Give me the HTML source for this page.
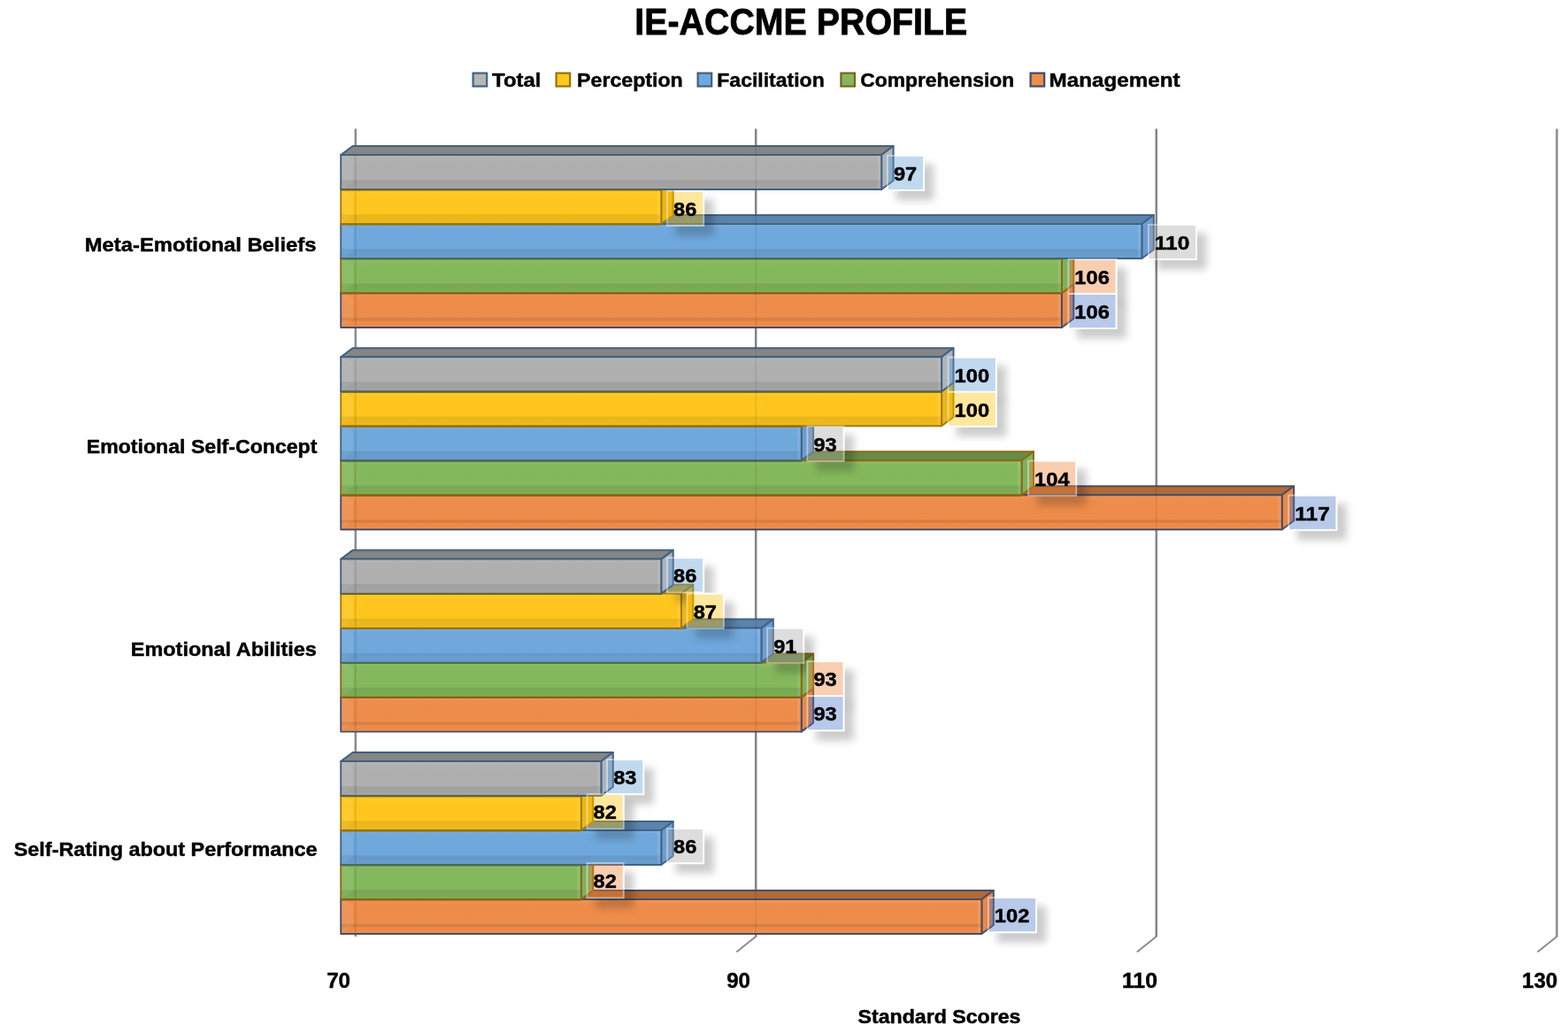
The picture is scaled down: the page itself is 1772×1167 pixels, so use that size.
<!DOCTYPE html>
<html lang="en"><head><meta charset="utf-8"><title>IE-ACCME PROFILE</title>
<style>
html,body{margin:0;padding:0;background:#fff;}
body{width:1772px;height:1167px;overflow:hidden;}
svg{display:block;}
text{font-family:"Liberation Sans", "DejaVu Sans", sans-serif;font-weight:bold;fill:#000;stroke:#000;stroke-width:0.45px;stroke-linejoin:round;}
.ttl{stroke-width:0.8px;}
</style></head><body>
<svg width="1772" height="1167" viewBox="0 0 1772 1167">
<defs>
<filter id="sh" x="-50%" y="-50%" width="220%" height="220%"><feGaussianBlur stdDeviation="4.4"/></filter>
<linearGradient id="bev" x1="0" y1="0" x2="0" y2="1"><stop offset="0" stop-color="#fff" stop-opacity="0.09"/><stop offset="0.13" stop-color="#fff" stop-opacity="0.01"/><stop offset="0.71" stop-color="#000" stop-opacity="0"/><stop offset="0.74" stop-color="#000" stop-opacity="0.09"/><stop offset="1" stop-color="#000" stop-opacity="0.06"/></linearGradient>
<linearGradient id="bevo" x1="0" y1="0" x2="0" y2="1"><stop offset="0" stop-color="#fff" stop-opacity="0.09"/><stop offset="0.13" stop-color="#fff" stop-opacity="0.01"/><stop offset="0.70" stop-color="#000" stop-opacity="0"/><stop offset="0.73" stop-color="#000" stop-opacity="0.10"/><stop offset="0.79" stop-color="#000" stop-opacity="0.09"/><stop offset="0.82" stop-color="#000" stop-opacity="0.01"/><stop offset="1" stop-color="#fff" stop-opacity="0.03"/></linearGradient>
</defs>
<rect width="1772" height="1167" fill="#fff"/>
<text class="ttl" x="905.3" y="38.9" font-size="42.4" text-anchor="middle" textLength="376" lengthAdjust="spacingAndGlyphs">IE-ACCME PROFILE</text>
<rect x="534.6" y="82.6" width="15.6" height="14.9" fill="#B6B6B6" stroke="#3F6288" stroke-width="2.2"/>
<text x="556.1" y="97.7" font-size="21.9" textLength="55.2" lengthAdjust="spacingAndGlyphs">Total</text>
<rect x="628.6" y="82.6" width="15.6" height="14.9" fill="#FFC820" stroke="#94720E" stroke-width="2.2"/>
<text x="652.1" y="97.7" font-size="21.9" textLength="119.6" lengthAdjust="spacingAndGlyphs">Perception</text>
<rect x="788.6" y="82.6" width="15.6" height="14.9" fill="#6FA8DC" stroke="#44607E" stroke-width="2.2"/>
<text x="810.3" y="97.7" font-size="21.9" textLength="121.4" lengthAdjust="spacingAndGlyphs">Facilitation</text>
<rect x="950.4" y="82.6" width="15.6" height="14.9" fill="#84B85C" stroke="#80601C" stroke-width="2.2"/>
<text x="972.2" y="97.7" font-size="21.9" textLength="174" lengthAdjust="spacingAndGlyphs">Comprehension</text>
<rect x="1164.6" y="82.6" width="15.6" height="14.9" fill="#EE8C4A" stroke="#3C4A70" stroke-width="2.2"/>
<text x="1185.5" y="97.7" font-size="21.9" textLength="148" lengthAdjust="spacingAndGlyphs">Management</text>
<line x1="401.8" y1="145.5" x2="401.8" y2="1058" stroke="#8C8C8C" stroke-width="2.5"/>
<line x1="854.2" y1="145.5" x2="854.2" y2="1058" stroke="#8C8C8C" stroke-width="2.5"/>
<line x1="854.2" y1="1058" x2="832.9" y2="1075" stroke="#8C8C8C" stroke-width="2" stroke-linecap="round"/>
<line x1="1306.8" y1="145.5" x2="1306.8" y2="1058" stroke="#8C8C8C" stroke-width="2.5"/>
<line x1="1306.8" y1="1058" x2="1285.5" y2="1075" stroke="#8C8C8C" stroke-width="2" stroke-linecap="round"/>
<line x1="1759.4" y1="145.5" x2="1759.4" y2="1058" stroke="#8C8C8C" stroke-width="2.5"/>
<line x1="1759.4" y1="1058" x2="1738.1" y2="1075" stroke="#8C8C8C" stroke-width="2" stroke-linecap="round"/>
<g>
<polygon points="385.2,331 398.6,321 1213.3,321 1199.9,331" fill="#B06A38" stroke="#4A4E66" stroke-width="2" stroke-linejoin="round"/>
<polygon points="1199.9,331 1213.3,321 1213.3,360 1199.9,370" fill="#E8884A" stroke="#4A4E66" stroke-width="2" stroke-linejoin="round"/>
<rect x="385.2" y="331" width="814.7" height="39" fill="#EE8C4A"/>
<rect x="385.2" y="331" width="814.7" height="39" fill="url(#bevo)"/>
<polygon points="385.2,331 399.2,337 399.2,360 385.2,370" fill="#fff" fill-opacity="0.07"/>
<rect x="400.4" y="332" width="2.6" height="37" fill="#000" fill-opacity="0.08"/>
<rect x="1195.4" y="332" width="3.5" height="37" fill="#fff" fill-opacity="0.10"/>
<rect x="385.2" y="331" width="814.7" height="39" fill="none" stroke="#4A4E66" stroke-width="1.9" stroke-linejoin="round"/>
<polygon points="385.2,292 398.6,282 1213.3,282 1199.9,292" fill="#668C48" stroke="#8A6A14" stroke-width="2" stroke-linejoin="round"/>
<polygon points="1199.9,292 1213.3,282 1213.3,321 1199.9,331" fill="#7FB060" stroke="#8A6A14" stroke-width="2" stroke-linejoin="round"/>
<rect x="385.2" y="292" width="814.7" height="39" fill="#84B85C"/>
<rect x="385.2" y="292" width="814.7" height="39" fill="url(#bev)"/>
<polygon points="385.2,292 399.2,298 399.2,321 385.2,331" fill="#fff" fill-opacity="0.07"/>
<rect x="400.4" y="293" width="2.6" height="37" fill="#000" fill-opacity="0.08"/>
<rect x="1195.4" y="293" width="3.5" height="37" fill="#fff" fill-opacity="0.10"/>
<rect x="385.2" y="292" width="814.7" height="39" fill="none" stroke="#8A6A14" stroke-width="1.9" stroke-linejoin="round"/>
<polygon points="385.2,253 398.6,243 1303.8,243 1290.4,253" fill="#5B83AB" stroke="#416487" stroke-width="2" stroke-linejoin="round"/>
<polygon points="1290.4,253 1303.8,243 1303.8,282 1290.4,292" fill="#6D9CD0" stroke="#416487" stroke-width="2" stroke-linejoin="round"/>
<rect x="385.2" y="253" width="905.2" height="39" fill="#6FA8DC"/>
<rect x="385.2" y="253" width="905.2" height="39" fill="url(#bev)"/>
<polygon points="385.2,253 399.2,259 399.2,282 385.2,292" fill="#fff" fill-opacity="0.07"/>
<rect x="400.4" y="254" width="2.6" height="37" fill="#000" fill-opacity="0.08"/>
<rect x="1285.9" y="254" width="3.5" height="37" fill="#fff" fill-opacity="0.10"/>
<rect x="385.2" y="253" width="905.2" height="39" fill="none" stroke="#416487" stroke-width="1.9" stroke-linejoin="round"/>
<polygon points="385.2,214 398.6,204 760.7,204 747.3,214" fill="#C8A020" stroke="#A47C0C" stroke-width="2" stroke-linejoin="round"/>
<polygon points="747.3,214 760.7,204 760.7,243 747.3,253" fill="#E9B71C" stroke="#A47C0C" stroke-width="2" stroke-linejoin="round"/>
<rect x="385.2" y="214" width="362.1" height="39" fill="#FFC61E"/>
<rect x="385.2" y="214" width="362.1" height="39" fill="url(#bev)"/>
<polygon points="385.2,214 399.2,220 399.2,243 385.2,253" fill="#fff" fill-opacity="0.07"/>
<rect x="400.4" y="215" width="2.6" height="37" fill="#000" fill-opacity="0.08"/>
<rect x="742.8" y="215" width="3.5" height="37" fill="#fff" fill-opacity="0.10"/>
<rect x="385.2" y="214" width="362.1" height="39" fill="none" stroke="#A47C0C" stroke-width="1.9" stroke-linejoin="round"/>
<polygon points="385.2,175 398.6,165 1009.6,165 996.2,175" fill="#858585" stroke="#40607F" stroke-width="2" stroke-linejoin="round"/>
<polygon points="996.2,175 1009.6,165 1009.6,204 996.2,214" fill="#ABB5C0" stroke="#40607F" stroke-width="2" stroke-linejoin="round"/>
<rect x="385.2" y="175" width="611" height="39" fill="#AFAFAF"/>
<rect x="385.2" y="175" width="611" height="39" fill="url(#bev)"/>
<polygon points="385.2,175 399.2,181 399.2,204 385.2,214" fill="#fff" fill-opacity="0.07"/>
<rect x="400.4" y="176" width="2.6" height="37" fill="#000" fill-opacity="0.08"/>
<rect x="991.7" y="176" width="3.5" height="37" fill="#fff" fill-opacity="0.10"/>
<rect x="385.2" y="175" width="611" height="39" fill="none" stroke="#40607F" stroke-width="1.9" stroke-linejoin="round"/>
<line x1="386.2" y1="214.4" x2="747.3" y2="214.4" stroke="#6A6524" stroke-width="2"/>
<line x1="386.2" y1="253.4" x2="747.3" y2="253.4" stroke="#93700F" stroke-width="2"/>
<line x1="386.2" y1="292.4" x2="1199.9" y2="292.4" stroke="#4F6C45" stroke-width="2"/>
<line x1="386.2" y1="331.4" x2="1199.9" y2="331.4" stroke="#876312" stroke-width="2"/>
</g>
<g>
<polygon points="385.2,559.3 398.6,549.3 1462.2,549.3 1448.8,559.3" fill="#B06A38" stroke="#4A4E66" stroke-width="2" stroke-linejoin="round"/>
<polygon points="1448.8,559.3 1462.2,549.3 1462.2,588.3 1448.8,598.3" fill="#E8884A" stroke="#4A4E66" stroke-width="2" stroke-linejoin="round"/>
<rect x="385.2" y="559.3" width="1063.6" height="39" fill="#EE8C4A"/>
<rect x="385.2" y="559.3" width="1063.6" height="39" fill="url(#bevo)"/>
<polygon points="385.2,559.3 399.2,565.3 399.2,588.3 385.2,598.3" fill="#fff" fill-opacity="0.07"/>
<rect x="400.4" y="560.3" width="2.6" height="37" fill="#000" fill-opacity="0.08"/>
<rect x="1444.3" y="560.3" width="3.5" height="37" fill="#fff" fill-opacity="0.10"/>
<rect x="385.2" y="559.3" width="1063.6" height="39" fill="none" stroke="#4A4E66" stroke-width="1.9" stroke-linejoin="round"/>
<polygon points="385.2,520.3 398.6,510.3 1168,510.3 1154.6,520.3" fill="#668C48" stroke="#8A6A14" stroke-width="2" stroke-linejoin="round"/>
<polygon points="1154.6,520.3 1168,510.3 1168,549.3 1154.6,559.3" fill="#7FB060" stroke="#8A6A14" stroke-width="2" stroke-linejoin="round"/>
<rect x="385.2" y="520.3" width="769.4" height="39" fill="#84B85C"/>
<rect x="385.2" y="520.3" width="769.4" height="39" fill="url(#bev)"/>
<polygon points="385.2,520.3 399.2,526.3 399.2,549.3 385.2,559.3" fill="#fff" fill-opacity="0.07"/>
<rect x="400.4" y="521.3" width="2.6" height="37" fill="#000" fill-opacity="0.08"/>
<rect x="1150.1" y="521.3" width="3.5" height="37" fill="#fff" fill-opacity="0.10"/>
<rect x="385.2" y="520.3" width="769.4" height="39" fill="none" stroke="#8A6A14" stroke-width="1.9" stroke-linejoin="round"/>
<polygon points="385.2,481.3 398.6,471.3 919.1,471.3 905.7,481.3" fill="#5B83AB" stroke="#416487" stroke-width="2" stroke-linejoin="round"/>
<polygon points="905.7,481.3 919.1,471.3 919.1,510.3 905.7,520.3" fill="#6D9CD0" stroke="#416487" stroke-width="2" stroke-linejoin="round"/>
<rect x="385.2" y="481.3" width="520.5" height="39" fill="#6FA8DC"/>
<rect x="385.2" y="481.3" width="520.5" height="39" fill="url(#bev)"/>
<polygon points="385.2,481.3 399.2,487.3 399.2,510.3 385.2,520.3" fill="#fff" fill-opacity="0.07"/>
<rect x="400.4" y="482.3" width="2.6" height="37" fill="#000" fill-opacity="0.08"/>
<rect x="901.2" y="482.3" width="3.5" height="37" fill="#fff" fill-opacity="0.10"/>
<rect x="385.2" y="481.3" width="520.5" height="39" fill="none" stroke="#416487" stroke-width="1.9" stroke-linejoin="round"/>
<polygon points="385.2,442.3 398.6,432.3 1077.5,432.3 1064.1,442.3" fill="#C8A020" stroke="#A47C0C" stroke-width="2" stroke-linejoin="round"/>
<polygon points="1064.1,442.3 1077.5,432.3 1077.5,471.3 1064.1,481.3" fill="#E9B71C" stroke="#A47C0C" stroke-width="2" stroke-linejoin="round"/>
<rect x="385.2" y="442.3" width="678.9" height="39" fill="#FFC61E"/>
<rect x="385.2" y="442.3" width="678.9" height="39" fill="url(#bev)"/>
<polygon points="385.2,442.3 399.2,448.3 399.2,471.3 385.2,481.3" fill="#fff" fill-opacity="0.07"/>
<rect x="400.4" y="443.3" width="2.6" height="37" fill="#000" fill-opacity="0.08"/>
<rect x="1059.6" y="443.3" width="3.5" height="37" fill="#fff" fill-opacity="0.10"/>
<rect x="385.2" y="442.3" width="678.9" height="39" fill="none" stroke="#A47C0C" stroke-width="1.9" stroke-linejoin="round"/>
<polygon points="385.2,403.3 398.6,393.3 1077.5,393.3 1064.1,403.3" fill="#858585" stroke="#40607F" stroke-width="2" stroke-linejoin="round"/>
<polygon points="1064.1,403.3 1077.5,393.3 1077.5,432.3 1064.1,442.3" fill="#ABB5C0" stroke="#40607F" stroke-width="2" stroke-linejoin="round"/>
<rect x="385.2" y="403.3" width="678.9" height="39" fill="#AFAFAF"/>
<rect x="385.2" y="403.3" width="678.9" height="39" fill="url(#bev)"/>
<polygon points="385.2,403.3 399.2,409.3 399.2,432.3 385.2,442.3" fill="#fff" fill-opacity="0.07"/>
<rect x="400.4" y="404.3" width="2.6" height="37" fill="#000" fill-opacity="0.08"/>
<rect x="1059.6" y="404.3" width="3.5" height="37" fill="#fff" fill-opacity="0.10"/>
<rect x="385.2" y="403.3" width="678.9" height="39" fill="none" stroke="#40607F" stroke-width="1.9" stroke-linejoin="round"/>
<line x1="386.2" y1="442.7" x2="1064.1" y2="442.7" stroke="#6A6524" stroke-width="2"/>
<line x1="386.2" y1="481.7" x2="905.7" y2="481.7" stroke="#93700F" stroke-width="2"/>
<line x1="386.2" y1="520.7" x2="905.7" y2="520.7" stroke="#4F6C45" stroke-width="2"/>
<line x1="386.2" y1="559.7" x2="1154.6" y2="559.7" stroke="#876312" stroke-width="2"/>
</g>
<g>
<polygon points="385.2,787.6 398.6,777.6 919.1,777.6 905.7,787.6" fill="#B06A38" stroke="#4A4E66" stroke-width="2" stroke-linejoin="round"/>
<polygon points="905.7,787.6 919.1,777.6 919.1,816.6 905.7,826.6" fill="#E8884A" stroke="#4A4E66" stroke-width="2" stroke-linejoin="round"/>
<rect x="385.2" y="787.6" width="520.5" height="39" fill="#EE8C4A"/>
<rect x="385.2" y="787.6" width="520.5" height="39" fill="url(#bevo)"/>
<polygon points="385.2,787.6 399.2,793.6 399.2,816.6 385.2,826.6" fill="#fff" fill-opacity="0.07"/>
<rect x="400.4" y="788.6" width="2.6" height="37" fill="#000" fill-opacity="0.08"/>
<rect x="901.2" y="788.6" width="3.5" height="37" fill="#fff" fill-opacity="0.10"/>
<rect x="385.2" y="787.6" width="520.5" height="39" fill="none" stroke="#4A4E66" stroke-width="1.9" stroke-linejoin="round"/>
<polygon points="385.2,748.6 398.6,738.6 919.1,738.6 905.7,748.6" fill="#668C48" stroke="#8A6A14" stroke-width="2" stroke-linejoin="round"/>
<polygon points="905.7,748.6 919.1,738.6 919.1,777.6 905.7,787.6" fill="#7FB060" stroke="#8A6A14" stroke-width="2" stroke-linejoin="round"/>
<rect x="385.2" y="748.6" width="520.5" height="39" fill="#84B85C"/>
<rect x="385.2" y="748.6" width="520.5" height="39" fill="url(#bev)"/>
<polygon points="385.2,748.6 399.2,754.6 399.2,777.6 385.2,787.6" fill="#fff" fill-opacity="0.07"/>
<rect x="400.4" y="749.6" width="2.6" height="37" fill="#000" fill-opacity="0.08"/>
<rect x="901.2" y="749.6" width="3.5" height="37" fill="#fff" fill-opacity="0.10"/>
<rect x="385.2" y="748.6" width="520.5" height="39" fill="none" stroke="#8A6A14" stroke-width="1.9" stroke-linejoin="round"/>
<polygon points="385.2,709.6 398.6,699.6 873.8,699.6 860.4,709.6" fill="#5B83AB" stroke="#416487" stroke-width="2" stroke-linejoin="round"/>
<polygon points="860.4,709.6 873.8,699.6 873.8,738.6 860.4,748.6" fill="#6D9CD0" stroke="#416487" stroke-width="2" stroke-linejoin="round"/>
<rect x="385.2" y="709.6" width="475.2" height="39" fill="#6FA8DC"/>
<rect x="385.2" y="709.6" width="475.2" height="39" fill="url(#bev)"/>
<polygon points="385.2,709.6 399.2,715.6 399.2,738.6 385.2,748.6" fill="#fff" fill-opacity="0.07"/>
<rect x="400.4" y="710.6" width="2.6" height="37" fill="#000" fill-opacity="0.08"/>
<rect x="855.9" y="710.6" width="3.5" height="37" fill="#fff" fill-opacity="0.10"/>
<rect x="385.2" y="709.6" width="475.2" height="39" fill="none" stroke="#416487" stroke-width="1.9" stroke-linejoin="round"/>
<polygon points="385.2,670.6 398.6,660.6 783.3,660.6 769.9,670.6" fill="#C8A020" stroke="#A47C0C" stroke-width="2" stroke-linejoin="round"/>
<polygon points="769.9,670.6 783.3,660.6 783.3,699.6 769.9,709.6" fill="#E9B71C" stroke="#A47C0C" stroke-width="2" stroke-linejoin="round"/>
<rect x="385.2" y="670.6" width="384.7" height="39" fill="#FFC61E"/>
<rect x="385.2" y="670.6" width="384.7" height="39" fill="url(#bev)"/>
<polygon points="385.2,670.6 399.2,676.6 399.2,699.6 385.2,709.6" fill="#fff" fill-opacity="0.07"/>
<rect x="400.4" y="671.6" width="2.6" height="37" fill="#000" fill-opacity="0.08"/>
<rect x="765.4" y="671.6" width="3.5" height="37" fill="#fff" fill-opacity="0.10"/>
<rect x="385.2" y="670.6" width="384.7" height="39" fill="none" stroke="#A47C0C" stroke-width="1.9" stroke-linejoin="round"/>
<polygon points="385.2,631.6 398.6,621.6 760.7,621.6 747.3,631.6" fill="#858585" stroke="#40607F" stroke-width="2" stroke-linejoin="round"/>
<polygon points="747.3,631.6 760.7,621.6 760.7,660.6 747.3,670.6" fill="#ABB5C0" stroke="#40607F" stroke-width="2" stroke-linejoin="round"/>
<rect x="385.2" y="631.6" width="362.1" height="39" fill="#AFAFAF"/>
<rect x="385.2" y="631.6" width="362.1" height="39" fill="url(#bev)"/>
<polygon points="385.2,631.6 399.2,637.6 399.2,660.6 385.2,670.6" fill="#fff" fill-opacity="0.07"/>
<rect x="400.4" y="632.6" width="2.6" height="37" fill="#000" fill-opacity="0.08"/>
<rect x="742.8" y="632.6" width="3.5" height="37" fill="#fff" fill-opacity="0.10"/>
<rect x="385.2" y="631.6" width="362.1" height="39" fill="none" stroke="#40607F" stroke-width="1.9" stroke-linejoin="round"/>
<line x1="386.2" y1="671" x2="747.3" y2="671" stroke="#6A6524" stroke-width="2"/>
<line x1="386.2" y1="710" x2="769.9" y2="710" stroke="#93700F" stroke-width="2"/>
<line x1="386.2" y1="749" x2="860.4" y2="749" stroke="#4F6C45" stroke-width="2"/>
<line x1="386.2" y1="788" x2="905.7" y2="788" stroke="#876312" stroke-width="2"/>
</g>
<g>
<polygon points="385.2,1016 398.6,1006 1122.8,1006 1109.4,1016" fill="#B06A38" stroke="#4A4E66" stroke-width="2" stroke-linejoin="round"/>
<polygon points="1109.4,1016 1122.8,1006 1122.8,1045 1109.4,1055" fill="#E8884A" stroke="#4A4E66" stroke-width="2" stroke-linejoin="round"/>
<rect x="385.2" y="1016" width="724.2" height="39" fill="#EE8C4A"/>
<rect x="385.2" y="1016" width="724.2" height="39" fill="url(#bevo)"/>
<polygon points="385.2,1016 399.2,1022 399.2,1045 385.2,1055" fill="#fff" fill-opacity="0.07"/>
<rect x="400.4" y="1017" width="2.6" height="37" fill="#000" fill-opacity="0.08"/>
<rect x="1104.9" y="1017" width="3.5" height="37" fill="#fff" fill-opacity="0.10"/>
<rect x="385.2" y="1016" width="724.2" height="39" fill="none" stroke="#4A4E66" stroke-width="1.9" stroke-linejoin="round"/>
<polygon points="385.2,977 398.6,967 670.2,967 656.8,977" fill="#668C48" stroke="#8A6A14" stroke-width="2" stroke-linejoin="round"/>
<polygon points="656.8,977 670.2,967 670.2,1006 656.8,1016" fill="#7FB060" stroke="#8A6A14" stroke-width="2" stroke-linejoin="round"/>
<rect x="385.2" y="977" width="271.6" height="39" fill="#84B85C"/>
<rect x="385.2" y="977" width="271.6" height="39" fill="url(#bev)"/>
<polygon points="385.2,977 399.2,983 399.2,1006 385.2,1016" fill="#fff" fill-opacity="0.07"/>
<rect x="400.4" y="978" width="2.6" height="37" fill="#000" fill-opacity="0.08"/>
<rect x="652.3" y="978" width="3.5" height="37" fill="#fff" fill-opacity="0.10"/>
<rect x="385.2" y="977" width="271.6" height="39" fill="none" stroke="#8A6A14" stroke-width="1.9" stroke-linejoin="round"/>
<polygon points="385.2,938 398.6,928 760.7,928 747.3,938" fill="#5B83AB" stroke="#416487" stroke-width="2" stroke-linejoin="round"/>
<polygon points="747.3,938 760.7,928 760.7,967 747.3,977" fill="#6D9CD0" stroke="#416487" stroke-width="2" stroke-linejoin="round"/>
<rect x="385.2" y="938" width="362.1" height="39" fill="#6FA8DC"/>
<rect x="385.2" y="938" width="362.1" height="39" fill="url(#bev)"/>
<polygon points="385.2,938 399.2,944 399.2,967 385.2,977" fill="#fff" fill-opacity="0.07"/>
<rect x="400.4" y="939" width="2.6" height="37" fill="#000" fill-opacity="0.08"/>
<rect x="742.8" y="939" width="3.5" height="37" fill="#fff" fill-opacity="0.10"/>
<rect x="385.2" y="938" width="362.1" height="39" fill="none" stroke="#416487" stroke-width="1.9" stroke-linejoin="round"/>
<polygon points="385.2,899 398.6,889 670.2,889 656.8,899" fill="#C8A020" stroke="#A47C0C" stroke-width="2" stroke-linejoin="round"/>
<polygon points="656.8,899 670.2,889 670.2,928 656.8,938" fill="#E9B71C" stroke="#A47C0C" stroke-width="2" stroke-linejoin="round"/>
<rect x="385.2" y="899" width="271.6" height="39" fill="#FFC61E"/>
<rect x="385.2" y="899" width="271.6" height="39" fill="url(#bev)"/>
<polygon points="385.2,899 399.2,905 399.2,928 385.2,938" fill="#fff" fill-opacity="0.07"/>
<rect x="400.4" y="900" width="2.6" height="37" fill="#000" fill-opacity="0.08"/>
<rect x="652.3" y="900" width="3.5" height="37" fill="#fff" fill-opacity="0.10"/>
<rect x="385.2" y="899" width="271.6" height="39" fill="none" stroke="#A47C0C" stroke-width="1.9" stroke-linejoin="round"/>
<polygon points="385.2,860 398.6,850 692.8,850 679.4,860" fill="#858585" stroke="#40607F" stroke-width="2" stroke-linejoin="round"/>
<polygon points="679.4,860 692.8,850 692.8,889 679.4,899" fill="#ABB5C0" stroke="#40607F" stroke-width="2" stroke-linejoin="round"/>
<rect x="385.2" y="860" width="294.2" height="39" fill="#AFAFAF"/>
<rect x="385.2" y="860" width="294.2" height="39" fill="url(#bev)"/>
<polygon points="385.2,860 399.2,866 399.2,889 385.2,899" fill="#fff" fill-opacity="0.07"/>
<rect x="400.4" y="861" width="2.6" height="37" fill="#000" fill-opacity="0.08"/>
<rect x="674.9" y="861" width="3.5" height="37" fill="#fff" fill-opacity="0.10"/>
<rect x="385.2" y="860" width="294.2" height="39" fill="none" stroke="#40607F" stroke-width="1.9" stroke-linejoin="round"/>
<line x1="386.2" y1="899.4" x2="656.8" y2="899.4" stroke="#6A6524" stroke-width="2"/>
<line x1="386.2" y1="938.4" x2="656.8" y2="938.4" stroke="#93700F" stroke-width="2"/>
<line x1="386.2" y1="977.4" x2="656.8" y2="977.4" stroke="#4F6C45" stroke-width="2"/>
<line x1="386.2" y1="1016.4" x2="656.8" y2="1016.4" stroke="#876312" stroke-width="2"/>
</g>
<line x1="854.2" y1="145.5" x2="854.2" y2="1058" stroke="#000" stroke-opacity="0.07" stroke-width="2"/>
<line x1="1306.8" y1="145.5" x2="1306.8" y2="1058" stroke="#000" stroke-opacity="0.07" stroke-width="2"/>
<mask id="lm" maskUnits="userSpaceOnUse" x="0" y="0" width="1772" height="1167"><rect width="1772" height="1167" fill="#fff"/>
<rect x="1002" y="174.9" width="43" height="41" fill="#000"/>
<rect x="753.1" y="214.8" width="43" height="41" fill="#000"/>
<rect x="1297" y="252.9" width="56" height="41" fill="#000"/>
<rect x="1206.5" y="291.9" width="56" height="41" fill="#000"/>
<rect x="1206.5" y="330.9" width="56" height="41" fill="#000"/>
<rect x="1070.7" y="402.7" width="56" height="41" fill="#000"/>
<rect x="1070.7" y="441.7" width="56" height="41" fill="#000"/>
<rect x="911.5" y="480.7" width="43" height="41" fill="#000"/>
<rect x="1161.2" y="519.7" width="56" height="41" fill="#000"/>
<rect x="1455.4" y="558.7" width="56" height="41" fill="#000"/>
<rect x="753.1" y="629.3" width="43" height="41" fill="#000"/>
<rect x="775.7" y="669.7" width="43" height="41" fill="#000"/>
<rect x="866.2" y="708.7" width="43" height="41" fill="#000"/>
<rect x="911.5" y="746.3" width="43" height="41" fill="#000"/>
<rect x="911.5" y="785.3" width="43" height="41" fill="#000"/>
<rect x="685.2" y="857.2" width="43" height="41" fill="#000"/>
<rect x="662.6" y="896.2" width="43" height="41" fill="#000"/>
<rect x="753.1" y="935.2" width="43" height="41" fill="#000"/>
<rect x="662.6" y="974.2" width="43" height="41" fill="#000"/>
<rect x="1116" y="1013.2" width="56" height="41" fill="#000"/>
</mask>
<g mask="url(#lm)">
<rect x="1012.5" y="185.4" width="43" height="41" fill="#000" fill-opacity="0.20" filter="url(#sh)"/>
<rect x="763.6" y="225.3" width="43" height="41" fill="#000" fill-opacity="0.20" filter="url(#sh)"/>
<rect x="1307.5" y="263.4" width="56" height="41" fill="#000" fill-opacity="0.20" filter="url(#sh)"/>
<rect x="1217" y="302.4" width="56" height="41" fill="#000" fill-opacity="0.20" filter="url(#sh)"/>
<rect x="1217" y="341.4" width="56" height="41" fill="#000" fill-opacity="0.20" filter="url(#sh)"/>
<rect x="1081.2" y="413.2" width="56" height="41" fill="#000" fill-opacity="0.20" filter="url(#sh)"/>
<rect x="1081.2" y="452.2" width="56" height="41" fill="#000" fill-opacity="0.20" filter="url(#sh)"/>
<rect x="922" y="491.2" width="43" height="41" fill="#000" fill-opacity="0.20" filter="url(#sh)"/>
<rect x="1171.7" y="530.2" width="56" height="41" fill="#000" fill-opacity="0.20" filter="url(#sh)"/>
<rect x="1465.9" y="569.2" width="56" height="41" fill="#000" fill-opacity="0.20" filter="url(#sh)"/>
<rect x="763.6" y="639.8" width="43" height="41" fill="#000" fill-opacity="0.20" filter="url(#sh)"/>
<rect x="786.2" y="680.2" width="43" height="41" fill="#000" fill-opacity="0.20" filter="url(#sh)"/>
<rect x="876.7" y="719.2" width="43" height="41" fill="#000" fill-opacity="0.20" filter="url(#sh)"/>
<rect x="922" y="756.8" width="43" height="41" fill="#000" fill-opacity="0.20" filter="url(#sh)"/>
<rect x="922" y="795.8" width="43" height="41" fill="#000" fill-opacity="0.20" filter="url(#sh)"/>
<rect x="695.7" y="867.7" width="43" height="41" fill="#000" fill-opacity="0.20" filter="url(#sh)"/>
<rect x="673.1" y="906.7" width="43" height="41" fill="#000" fill-opacity="0.20" filter="url(#sh)"/>
<rect x="763.6" y="945.7" width="43" height="41" fill="#000" fill-opacity="0.20" filter="url(#sh)"/>
<rect x="673.1" y="984.7" width="43" height="41" fill="#000" fill-opacity="0.20" filter="url(#sh)"/>
<rect x="1126.5" y="1023.7" width="56" height="41" fill="#000" fill-opacity="0.20" filter="url(#sh)"/>
</g>
<rect x="1003.8" y="176.7" width="39.4" height="37.4" fill="#5B9BD5" fill-opacity="0.38"/>
<rect x="1002.9" y="175.8" width="41.2" height="39.2" fill="none" stroke="#fff" stroke-opacity="0.45" stroke-width="1.8"/>
<text x="1023.1" y="203.8" font-size="22.9" text-anchor="middle" textLength="26.3" lengthAdjust="spacingAndGlyphs">97</text>
<rect x="754.9" y="216.6" width="39.4" height="37.4" fill="#FFC000" fill-opacity="0.38"/>
<rect x="754" y="215.7" width="41.2" height="39.2" fill="none" stroke="#fff" stroke-opacity="0.45" stroke-width="1.8"/>
<text x="774.2" y="243.7" font-size="22.9" text-anchor="middle" textLength="26.3" lengthAdjust="spacingAndGlyphs">86</text>
<rect x="1298.8" y="254.7" width="52.4" height="37.4" fill="#A5A5A5" fill-opacity="0.38"/>
<rect x="1297.9" y="253.8" width="54.2" height="39.2" fill="none" stroke="#fff" stroke-opacity="0.45" stroke-width="1.8"/>
<text x="1324.6" y="281.8" font-size="22.9" text-anchor="middle" textLength="39.6" lengthAdjust="spacingAndGlyphs">110</text>
<rect x="1208.3" y="293.7" width="52.4" height="37.4" fill="#ED7D31" fill-opacity="0.38"/>
<rect x="1207.4" y="292.8" width="54.2" height="39.2" fill="none" stroke="#fff" stroke-opacity="0.45" stroke-width="1.8"/>
<text x="1234.1" y="320.8" font-size="22.9" text-anchor="middle" textLength="39.6" lengthAdjust="spacingAndGlyphs">106</text>
<rect x="1208.3" y="332.7" width="52.4" height="37.4" fill="#4472C4" fill-opacity="0.38"/>
<rect x="1207.4" y="331.8" width="54.2" height="39.2" fill="none" stroke="#fff" stroke-opacity="0.45" stroke-width="1.8"/>
<text x="1234.1" y="359.8" font-size="22.9" text-anchor="middle" textLength="39.6" lengthAdjust="spacingAndGlyphs">106</text>
<rect x="1072.5" y="404.5" width="52.4" height="37.4" fill="#5B9BD5" fill-opacity="0.38"/>
<rect x="1071.6" y="403.6" width="54.2" height="39.2" fill="none" stroke="#fff" stroke-opacity="0.45" stroke-width="1.8"/>
<text x="1098.3" y="431.6" font-size="22.9" text-anchor="middle" textLength="39.6" lengthAdjust="spacingAndGlyphs">100</text>
<rect x="1072.5" y="443.5" width="52.4" height="37.4" fill="#FFC000" fill-opacity="0.38"/>
<rect x="1071.6" y="442.6" width="54.2" height="39.2" fill="none" stroke="#fff" stroke-opacity="0.45" stroke-width="1.8"/>
<text x="1098.3" y="470.6" font-size="22.9" text-anchor="middle" textLength="39.6" lengthAdjust="spacingAndGlyphs">100</text>
<rect x="913.3" y="482.5" width="39.4" height="37.4" fill="#A5A5A5" fill-opacity="0.38"/>
<rect x="912.4" y="481.6" width="41.2" height="39.2" fill="none" stroke="#fff" stroke-opacity="0.45" stroke-width="1.8"/>
<text x="932.6" y="509.6" font-size="22.9" text-anchor="middle" textLength="26.3" lengthAdjust="spacingAndGlyphs">93</text>
<rect x="1163" y="521.5" width="52.4" height="37.4" fill="#ED7D31" fill-opacity="0.38"/>
<rect x="1162.1" y="520.6" width="54.2" height="39.2" fill="none" stroke="#fff" stroke-opacity="0.45" stroke-width="1.8"/>
<text x="1188.8" y="548.6" font-size="22.9" text-anchor="middle" textLength="39.6" lengthAdjust="spacingAndGlyphs">104</text>
<rect x="1457.2" y="560.5" width="52.4" height="37.4" fill="#4472C4" fill-opacity="0.38"/>
<rect x="1456.3" y="559.6" width="54.2" height="39.2" fill="none" stroke="#fff" stroke-opacity="0.45" stroke-width="1.8"/>
<text x="1483" y="587.6" font-size="22.9" text-anchor="middle" textLength="39.6" lengthAdjust="spacingAndGlyphs">117</text>
<rect x="754.9" y="631.1" width="39.4" height="37.4" fill="#5B9BD5" fill-opacity="0.38"/>
<rect x="754" y="630.2" width="41.2" height="39.2" fill="none" stroke="#fff" stroke-opacity="0.45" stroke-width="1.8"/>
<text x="774.2" y="658.2" font-size="22.9" text-anchor="middle" textLength="26.3" lengthAdjust="spacingAndGlyphs">86</text>
<rect x="777.5" y="671.5" width="39.4" height="37.4" fill="#FFC000" fill-opacity="0.38"/>
<rect x="776.6" y="670.6" width="41.2" height="39.2" fill="none" stroke="#fff" stroke-opacity="0.45" stroke-width="1.8"/>
<text x="796.8" y="698.6" font-size="22.9" text-anchor="middle" textLength="26.3" lengthAdjust="spacingAndGlyphs">87</text>
<rect x="868" y="710.5" width="39.4" height="37.4" fill="#A5A5A5" fill-opacity="0.38"/>
<rect x="867.1" y="709.6" width="41.2" height="39.2" fill="none" stroke="#fff" stroke-opacity="0.45" stroke-width="1.8"/>
<text x="887.3" y="737.6" font-size="22.9" text-anchor="middle" textLength="26.3" lengthAdjust="spacingAndGlyphs">91</text>
<rect x="913.3" y="748.1" width="39.4" height="37.4" fill="#ED7D31" fill-opacity="0.38"/>
<rect x="912.4" y="747.2" width="41.2" height="39.2" fill="none" stroke="#fff" stroke-opacity="0.45" stroke-width="1.8"/>
<text x="932.6" y="775.2" font-size="22.9" text-anchor="middle" textLength="26.3" lengthAdjust="spacingAndGlyphs">93</text>
<rect x="913.3" y="787.1" width="39.4" height="37.4" fill="#4472C4" fill-opacity="0.38"/>
<rect x="912.4" y="786.2" width="41.2" height="39.2" fill="none" stroke="#fff" stroke-opacity="0.45" stroke-width="1.8"/>
<text x="932.6" y="814.2" font-size="22.9" text-anchor="middle" textLength="26.3" lengthAdjust="spacingAndGlyphs">93</text>
<rect x="687" y="859" width="39.4" height="37.4" fill="#5B9BD5" fill-opacity="0.38"/>
<rect x="686.1" y="858.1" width="41.2" height="39.2" fill="none" stroke="#fff" stroke-opacity="0.45" stroke-width="1.8"/>
<text x="706.3" y="886.1" font-size="22.9" text-anchor="middle" textLength="26.3" lengthAdjust="spacingAndGlyphs">83</text>
<rect x="664.4" y="898" width="39.4" height="37.4" fill="#FFC000" fill-opacity="0.38"/>
<rect x="663.5" y="897.1" width="41.2" height="39.2" fill="none" stroke="#fff" stroke-opacity="0.45" stroke-width="1.8"/>
<text x="683.7" y="925.1" font-size="22.9" text-anchor="middle" textLength="26.3" lengthAdjust="spacingAndGlyphs">82</text>
<rect x="754.9" y="937" width="39.4" height="37.4" fill="#A5A5A5" fill-opacity="0.38"/>
<rect x="754" y="936.1" width="41.2" height="39.2" fill="none" stroke="#fff" stroke-opacity="0.45" stroke-width="1.8"/>
<text x="774.2" y="964.1" font-size="22.9" text-anchor="middle" textLength="26.3" lengthAdjust="spacingAndGlyphs">86</text>
<rect x="664.4" y="976" width="39.4" height="37.4" fill="#ED7D31" fill-opacity="0.38"/>
<rect x="663.5" y="975.1" width="41.2" height="39.2" fill="none" stroke="#fff" stroke-opacity="0.45" stroke-width="1.8"/>
<text x="683.7" y="1003.1" font-size="22.9" text-anchor="middle" textLength="26.3" lengthAdjust="spacingAndGlyphs">82</text>
<rect x="1117.8" y="1015" width="52.4" height="37.4" fill="#4472C4" fill-opacity="0.38"/>
<rect x="1116.9" y="1014.1" width="54.2" height="39.2" fill="none" stroke="#fff" stroke-opacity="0.45" stroke-width="1.8"/>
<text x="1143.6" y="1042.1" font-size="22.9" text-anchor="middle" textLength="39.6" lengthAdjust="spacingAndGlyphs">102</text>
<text x="95.8" y="283.8" font-size="21.9" textLength="261.6" lengthAdjust="spacingAndGlyphs">Meta-Emotional Beliefs</text>
<text x="97.8" y="512" font-size="21.9" textLength="260.6" lengthAdjust="spacingAndGlyphs">Emotional Self-Concept</text>
<text x="147.8" y="740.8" font-size="21.9" textLength="210.1" lengthAdjust="spacingAndGlyphs">Emotional Abilities</text>
<text x="15.8" y="967.1" font-size="21.9" textLength="342.6" lengthAdjust="spacingAndGlyphs">Self-Rating about Performance</text>
<text x="396" y="1115.6" font-size="24.0" text-anchor="end" textLength="26.8" lengthAdjust="spacingAndGlyphs">70</text>
<text x="848" y="1115.6" font-size="24.0" text-anchor="end" textLength="26.8" lengthAdjust="spacingAndGlyphs">90</text>
<text x="1308.1" y="1115.6" font-size="24.0" text-anchor="end" textLength="40.2" lengthAdjust="spacingAndGlyphs">110</text>
<text x="1760.2" y="1115.6" font-size="24.0" text-anchor="end" textLength="40.2" lengthAdjust="spacingAndGlyphs">130</text>
<text x="969.5" y="1155.7" font-size="21.9" textLength="184" lengthAdjust="spacingAndGlyphs">Standard Scores</text>
</svg>
</body></html>
